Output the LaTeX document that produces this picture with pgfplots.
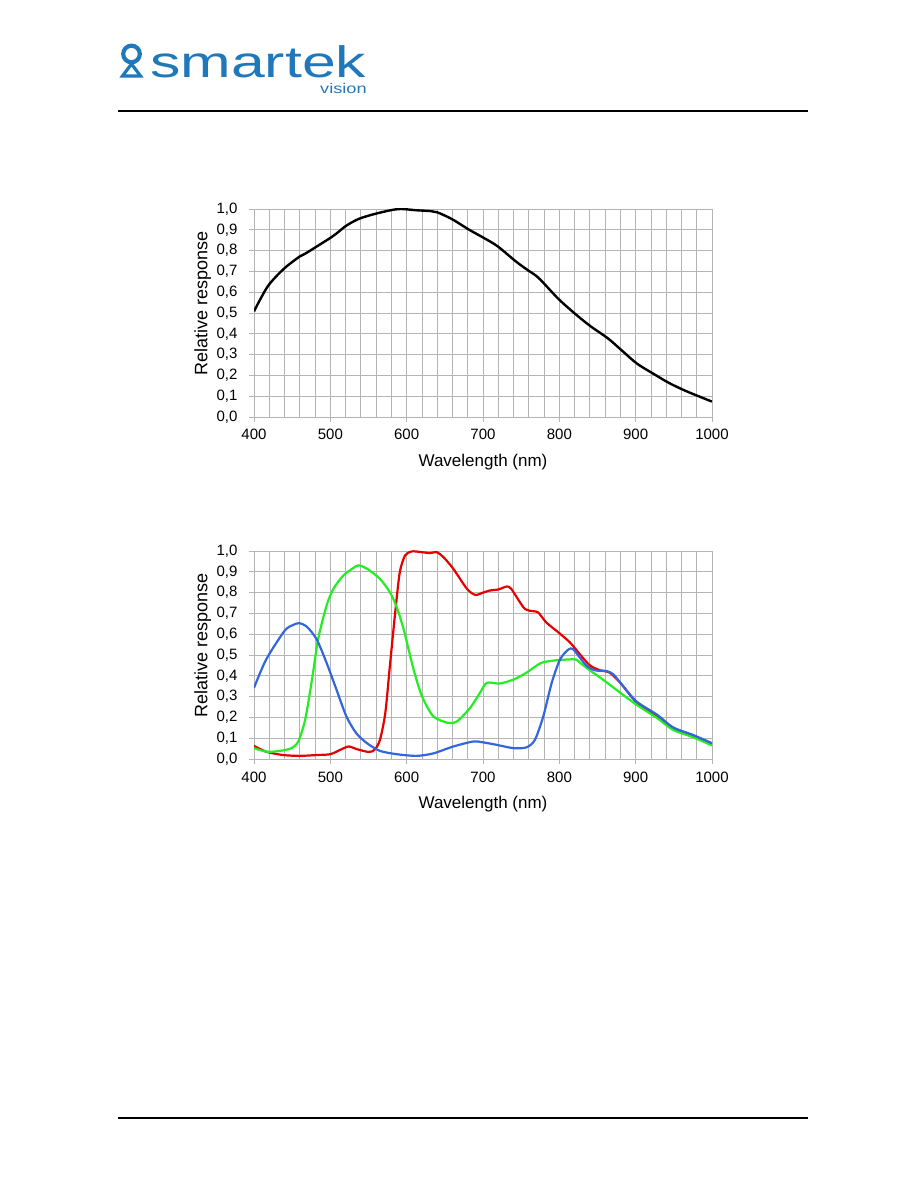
\documentclass[border=0pt]{standalone}
\usepackage{fontspec}
\setmainfont{Liberation Sans}
\usepackage{pgfplots}
\pgfplotsset{compat=1.18}
\definecolor{smblue}{HTML}{1F78B9}
\definecolor{gridgrey}{HTML}{B4B4B4}
\definecolor{chred}{HTML}{E60000}
\definecolor{chgreen}{HTML}{22EE22}
\definecolor{chblue}{HTML}{3366DD}

\pgfplotsset{
  spectrum/.style={
    scale only axis, width=458pt, height=208pt,
    xmin=400, xmax=1000, ymin=0, ymax=1,
    xtick={400,500,600,700,800,900,1000},
    minor xtick={420,440,...,980},
    ytick={0,0.1,0.2,0.3,0.4,0.5,0.6,0.7,0.8,0.9,1.0},
    grid=both,
    major grid style={gridgrey, line width=0.8pt},
    minor grid style={gridgrey, line width=0.8pt},
    axis line style={gridgrey, line width=0.8pt},
    tick style={gridgrey, line width=0.8pt},
    tick align=outside, tick pos=left,
    major tick length=5pt, minor tick length=0pt,
    /pgf/number format/assume math mode=true,
    xticklabel style={font=\fontsize{15}{17}\selectfont, yshift=-4pt,
      /pgf/number format/1000 sep={}},
    yticklabel style={font=\fontsize{15}{17}\selectfont, xshift=-8pt,
      /pgf/number format/.cd, fixed, fixed zerofill, precision=1, use comma},
    xlabel={Wavelength (nm)}, ylabel={Relative response},
    xlabel style={font=\fontsize{17}{19}\selectfont,
      at={(axis description cs:0.5,-0.218)}, anchor=center},
    ylabel style={font=\fontsize{18}{20}\selectfont,
      at={(axis description cs:-0.112,0.545)}, anchor=center},
  },
}

\begin{document}
\begin{tikzpicture}[x=1pt,y=1pt]
\path[use as bounding box] (0,0) rectangle (918,1188);

% header logo
\draw[smblue, line width=4.2pt] (131.5,1134) circle (8.3);
\draw[smblue, line width=3.2pt, line join=miter] (131.5,1124) -- (122.5,1112) -- (140.5,1112) -- cycle;
\node[smblue, anchor=base west, inner sep=0, xscale=1.38, text depth=0pt,
      font=\fontsize{44}{44}\selectfont] at (150,1110) {smartek};
\node[smblue, anchor=base east, inner sep=0, xscale=1.3, text height=7pt,
      font=\fontsize{14}{14}\selectfont] at (367,1094) {vision};

% page rules
\draw[line width=2pt] (118,1077) -- (808,1077);
\draw[line width=2pt] (118,70) -- (808,70);

% monochrome response
\begin{axis}[spectrum, at={(254pt,771pt)}, anchor=south west]
\addplot[black, line width=2.4pt, smooth, tension=0.5] coordinates {
  (400,0.508) (418,0.628) (439,0.712) (460,0.772) (467,0.785) (481,0.817)
  (500,0.861) (509,0.885) (521,0.920) (537,0.952) (556,0.974) (579,0.994)
  (593,1.000) (612,0.994) (631,0.990) (640,0.984) (659,0.952) (682,0.900)
  (701,0.861) (719,0.821) (743,0.748) (759,0.705) (773,0.668) (799,0.567)
  (822,0.492) (841,0.436) (864,0.377) (883,0.316) (902,0.256) (925,0.204)
  (944,0.163) (967,0.123) (1000,0.074)};
\end{axis}

% colour response
\begin{axis}[spectrum, at={(254pt,429pt)}, anchor=south west]
\addplot[chred, line width=2.2pt, smooth, tension=0.45] coordinates {
  (400,0.063) (416,0.035) (438,0.019) (460,0.015) (482,0.019) (500,0.023)
  (513,0.044) (524,0.060) (535,0.047) (550,0.034) (558,0.044) (565,0.092)
  (572,0.221) (578,0.447) (585,0.705) (591,0.898) (598,0.979) (607,0.998)
  (618,0.995) (631,0.990) (639,0.995) (648,0.971) (661,0.915) (679,0.818)
  (690,0.789) (700,0.800) (709,0.810) (720,0.815) (731,0.829) (737,0.818)
  (753,0.729) (761,0.713) (772,0.705) (783,0.656) (799,0.608) (814,0.560)
  (827,0.503) (840,0.450) (853,0.427) (866,0.415) (880,0.366) (901,0.273)
  (928,0.205) (949,0.148) (975,0.108) (1000,0.073)};
\addplot[chgreen, line width=2.2pt, smooth, tension=0.45] coordinates {
  (400,0.052) (417,0.035) (434,0.039) (449,0.052) (458,0.084) (467,0.189)
  (476,0.382) (484,0.576) (495,0.737) (504,0.818) (517,0.882) (530,0.918)
  (537,0.931) (548,0.915) (565,0.866) (578,0.802) (587,0.729) (596,0.624)
  (609,0.431) (620,0.302) (635,0.205) (655,0.173) (666,0.181) (683,0.245)
  (696,0.318) (705,0.366) (722,0.363) (740,0.382) (757,0.415) (775,0.460)
  (788,0.471) (801,0.476) (821,0.479) (827,0.463) (840,0.426) (857,0.382)
  (880,0.318) (901,0.261) (928,0.197) (949,0.140) (975,0.105) (1000,0.065)};
\addplot[chblue, line width=2.2pt, smooth, tension=0.45] coordinates {
  (400,0.342) (416,0.479) (440,0.616) (451,0.644) (459,0.653) (469,0.637)
  (482,0.576) (495,0.463) (508,0.334) (521,0.205) (534,0.124) (548,0.076)
  (565,0.039) (587,0.023) (613,0.015) (635,0.027) (661,0.060) (687,0.084)
  (700,0.080) (718,0.068) (740,0.052) (757,0.056) (768,0.092) (779,0.205)
  (790,0.366) (801,0.479) (812,0.527) (818,0.528) (827,0.487) (836,0.447)
  (847,0.426) (862,0.423) (871,0.406) (880,0.366) (901,0.277) (928,0.213)
  (949,0.152) (975,0.116) (1000,0.076)};
\end{axis}
\end{tikzpicture}
\end{document}
